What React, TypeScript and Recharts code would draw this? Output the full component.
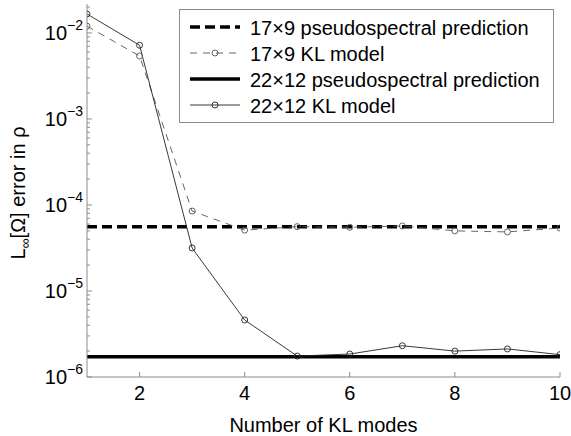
import React from 'react'
import { LineChart, Line, XAxis, YAxis, Legend, Label } from 'recharts'

// values
const modes = [1, 2, 3, 4, 5, 6, 7, 8, 9, 10]
const kl17x9 = [1.2e-2, 5.4e-3, 8.5e-5, 5.1e-5, 5.6e-5, 5.5e-5, 5.7e-5, 5.0e-5, 4.86e-5, 5.4e-5]
const kl22x12 = [1.66e-2, 7.2e-3, 3.16e-5, 4.6e-6, 1.75e-6, 1.85e-6, 2.31e-6, 2.0e-6, 2.12e-6, 1.82e-6]
const pred17x9 = 5.6e-5
const pred22x12 = 1.72e-6

const xTicks = [2, 4, 6, 8, 10]
const yDecades = [-6, -5, -4, -3, -2]
const yMin = 1e-6
const yMax = 0.0217

const axisColor = '#8c8c8c'
const font = '"Liberation Sans", Arial, Helvetica, sans-serif'

const yMajor = yDecades.map(e => Math.pow(10, e))
const yMinor: number[] = []
yDecades.forEach(e => {
  for (let m = 2; m <= 9; m++) {
    const v = m * Math.pow(10, e)
    if (v <= yMax) yMinor.push(v)
  }
})
const yTicks = [...yMajor, ...yMinor].sort((a, b) => a - b)

const chartData = modes.map((k, i) => ({
  k,
  pred17: pred17x9,
  kl17: kl17x9[i],
  pred22: pred22x12,
  kl22: kl22x12[i],
}))

const series = [
  { key: 'pred17', name: '17×9 pseudospectral prediction', color: '#000', width: 3.5, dash: '10 5', marker: false },
  { key: 'kl17', name: '17×9 KL model', color: '#555', width: 0.9, dash: '7 6', marker: true },
  { key: 'pred22', name: '22×12 pseudospectral prediction', color: '#000', width: 3.5, dash: undefined, marker: false },
  { key: 'kl22', name: '22×12 KL model', color: '#222', width: 0.9, dash: undefined, marker: true },
]

const decadeOf = (v: number) => {
  const e = Math.round(Math.log10(v))
  return { e, major: Math.abs(v / Math.pow(10, e) - 1) < 1e-6 }
}

const LeftTick = (props: any) => {
  const { x, y, payload } = props
  const { e, major } = decadeOf(payload.value)
  return (
    <g>
      <line x1={x} x2={x + (major ? 5 : 3)} y1={y} y2={y} stroke={axisColor} />
      {major && (
        <text x={x - 4} y={y + 7} textAnchor="end" fontSize={20} fill="#000">
          10<tspan dy={-10} fontSize={14}>{'\u2212' + -e}</tspan>
        </text>
      )}
    </g>
  )
}

const RightTick = (props: any) => {
  const { x, y, payload } = props
  const { major } = decadeOf(payload.value)
  return <line x1={x} x2={x - (major ? 5 : 3)} y1={y} y2={y} stroke={axisColor} />
}

const BottomTick = (props: any) => {
  const { x, y, payload } = props
  return (
    <g>
      <line x1={x} x2={x} y1={y} y2={y - 5} stroke={axisColor} />
      <text x={x} y={y + 23} textAnchor="middle" fontSize={20} fill="#000">
        {payload.value}
      </text>
    </g>
  )
}

const TopTick = (props: any) => {
  const { x, y } = props
  return <line x1={x} x2={x} y1={y} y2={y + 5} stroke={axisColor} />
}

const YTitle = (props: any) => {
  const { viewBox } = props
  const cx = 25
  const cy = viewBox.y + viewBox.height / 2 + 2.5
  return (
    <text x={cx} y={cy} transform={`rotate(-90, ${cx}, ${cy})`} textAnchor="middle" fontSize={20} fill="#000">
      L<tspan dy={5} fontSize={14}>∞</tspan>
      <tspan dy={-5}>[Ω] error in ρ</tspan>
    </text>
  )
}

const XTitle = (props: any) => {
  const { viewBox } = props
  return (
    <text x={viewBox.x + viewBox.width / 2} y={viewBox.y + 55} textAnchor="middle" fontSize={20} fill="#000">
      Number of KL modes
    </text>
  )
}

const hollowDot = (color: string) => (p: any) => (
  <circle key={`dot-${p.index}`} cx={p.cx} cy={p.cy} r={3} fill="none" stroke={color} strokeWidth={0.9} />
)

const LegendBox = () => (
  <div style={{ width: 375, height: 114, border: `1px solid ${axisColor}`, background: '#fff', boxSizing: 'border-box' }}>
    <svg width={373} height={112} style={{ display: 'block' }}>
      {series.map((s, i) => {
        const cy = 17 + i * 26
        return (
          <g key={s.key}>
            <line x1={10} x2={60} y1={cy} y2={cy} stroke={s.color} strokeWidth={s.width} strokeDasharray={s.dash} />
            {s.marker && <circle cx={35} cy={cy} r={3} fill="none" stroke={s.color} strokeWidth={0.9} />}
            <text x={70} y={cy + 8} fontSize={20} fill="#000">{s.name}</text>
          </g>
        )
      })}
    </svg>
  </div>
)

export default function App() {
  return (
    <div style={{ position: 'absolute', left: 0, top: 0, background: '#fff', fontFamily: font }}>
      <LineChart width={571} height={436} data={chartData} margin={{ top: 4, right: 11, bottom: 0, left: 0 }}>
        <XAxis
          xAxisId="b"
          dataKey="k"
          type="number"
          domain={[1, 10]}
          ticks={xTicks}
          interval={0}
          allowDataOverflow
          height={59}
          tickSize={0}
          tickMargin={0}
          stroke={axisColor}
          tick={<BottomTick />}
        >
          <Label content={<XTitle />} />
        </XAxis>
        <XAxis
          xAxisId="t"
          orientation="top"
          type="number"
          domain={[1, 10]}
          ticks={xTicks}
          interval={0}
          allowDataOverflow
          height={0}
          tickSize={0}
          tickMargin={0}
          stroke={axisColor}
          tick={<TopTick />}
        />
        <YAxis
          yAxisId="l"
          type="number"
          scale="log"
          domain={[yMin, yMax]}
          ticks={yTicks}
          interval={0}
          allowDataOverflow
          width={87}
          tickSize={0}
          tickMargin={0}
          stroke={axisColor}
          tick={<LeftTick />}
        >
          <Label content={<YTitle />} />
        </YAxis>
        <YAxis
          yAxisId="r"
          orientation="right"
          type="number"
          scale="log"
          domain={[yMin, yMax]}
          ticks={yTicks}
          interval={0}
          allowDataOverflow
          width={0}
          tickSize={0}
          tickMargin={0}
          stroke={axisColor}
          tick={<RightTick />}
        />
        <Legend
          layout="vertical"
          align="center"
          verticalAlign="middle"
          content={<LegendBox />}
          wrapperStyle={{ left: 179, top: 9 }}
        />
        {series.map(s => (
          <Line
            key={s.key}
            xAxisId="b"
            yAxisId="l"
            type="linear"
            dataKey={s.key}
            name={s.name}
            stroke={s.color}
            strokeWidth={s.width}
            strokeDasharray={s.dash}
            dot={s.marker ? hollowDot(s.color) : false}
            activeDot={false}
            isAnimationActive={false}
          />
        ))}
      </LineChart>
    </div>
  )
}
